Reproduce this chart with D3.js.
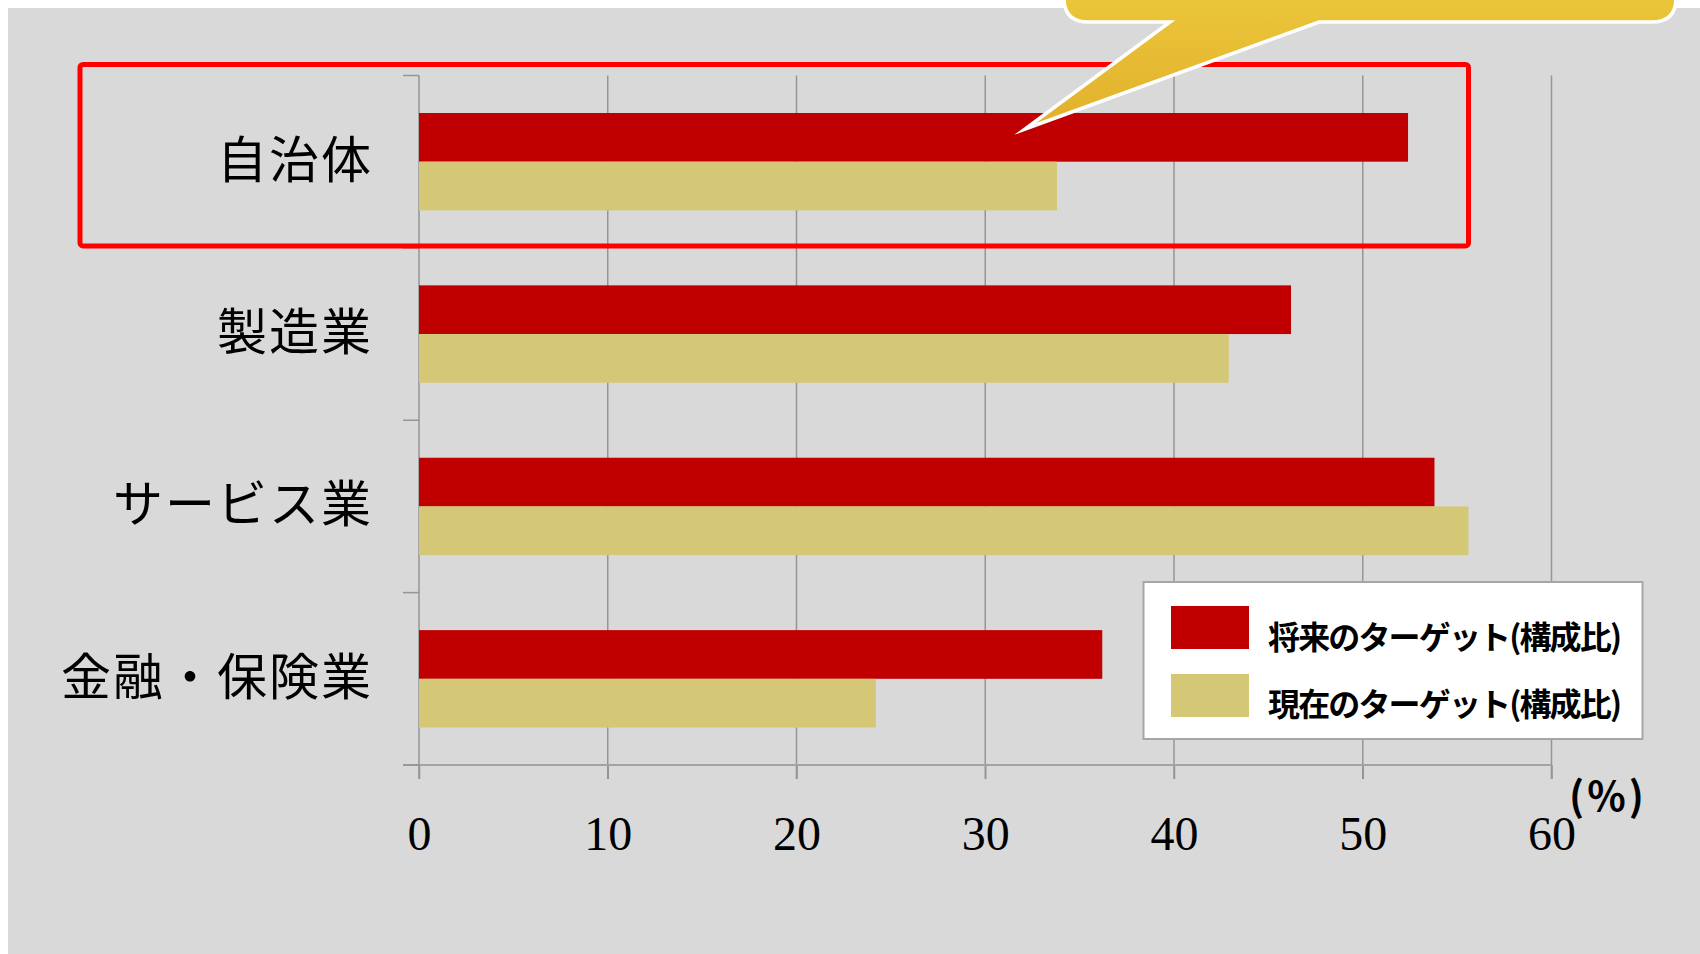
<!DOCTYPE html>
<html>
<head>
<meta charset="utf-8">
<script src="https://cdn.jsdelivr.net/npm/d3@7"></script>
<style>
  html, body { margin: 0; padding: 0; background: #ffffff; }
  svg { display: block; }
</style>
</head>
<body>
<svg id="chart" width="1700" height="954"></svg>
<script>
// ---- data ----
const categories = ["自治体", "製造業", "サービス業", "金融・保険業"];
const seriesKeys = ["future", "current"];
const seriesNames = ["将来のターゲット(構成比)", "現在のターゲット(構成比)"];
const futureValues = [52.4, 46.2, 53.8, 36.2];
const currentValues = [33.8, 42.9, 55.6, 24.2];
const xTicks = [0, 10, 20, 30, 40, 50, 60];
const unitLabel = "(%)";

// ---- layout ----
const W = 1700, H = 954;
const plot = { left: 419, right: 1551.5, top: 75.5, bottom: 765 };
const colors = { future: "#c00000", current: "#d4c876" };
const gridColor = "#959595";

const svg = d3.select("#chart");

svg.append("rect").attr("x", 8).attr("y", 8).attr("width", W - 8).attr("height", H - 8)
  .attr("fill", "#d9d9d9");

const x = d3.scaleLinear().domain([xTicks[0], xTicks[xTicks.length - 1]]).range([plot.left, plot.right]);
const pad = 0.435;
const y = d3.scaleBand().domain(categories).range([plot.top, plot.bottom])
  .paddingInner(pad).paddingOuter(pad / 2);
const ySub = d3.scaleBand().domain(seriesKeys).range([0, y.bandwidth()]);

// gridlines
const tickLen = 14;
svg.append("g").selectAll("line").data(xTicks.slice(1)).join("line")
  .attr("x1", d => x(d)).attr("x2", d => x(d))
  .attr("y1", plot.top).attr("y2", plot.bottom + tickLen)
  .attr("stroke", gridColor).attr("stroke-width", 1.5);

// x axis
const xAxis = svg.append("g").attr("transform", `translate(0,${plot.bottom})`)
  .call(d3.axisBottom(x).tickValues(xTicks).tickSize(tickLen).tickSizeOuter(0));
xAxis.select(".domain").remove();
xAxis.selectAll(".tick line").attr("stroke", gridColor).attr("stroke-width", 1.5);
xAxis.selectAll(".tick text")
  .attr("y", 68.6).attr("dy", "0.35em")
  .attr("font-family", "'Liberation Serif', 'Times New Roman', serif")
  .attr("font-size", 48).attr("fill", "#000");
svg.append("line")
  .attr("x1", plot.left - 16).attr("x2", x(xTicks[xTicks.length - 1]))
  .attr("y1", plot.bottom).attr("y2", plot.bottom)
  .attr("stroke", "#a3a3a3").attr("stroke-width", 2);

// y axis
svg.append("line")
  .attr("x1", plot.left).attr("x2", plot.left)
  .attr("y1", plot.top).attr("y2", plot.bottom + tickLen)
  .attr("stroke", gridColor).attr("stroke-width", 1.5);
const boundaries = d3.range(categories.length + 1).map(i => y.range()[0] + i * y.step());
svg.append("g").selectAll("line").data(boundaries).join("line")
  .attr("x1", plot.left - 16).attr("x2", plot.left)
  .attr("y1", d => d).attr("y2", d => d)
  .attr("stroke", gridColor).attr("stroke-width", 1.5);

// bars
const rows = categories.map((c, i) => ({ cat: c, future: futureValues[i], current: currentValues[i] }));
const groups = svg.append("g").selectAll("g").data(rows).join("g")
  .attr("transform", d => `translate(0,${y(d.cat)})`);
groups.selectAll("rect").data(d => seriesKeys.map(k => ({ key: k, value: d[k] }))).join("rect")
  .attr("x", x(0))
  .attr("y", d => ySub(d.key))
  .attr("width", d => x(d.value) - x(0))
  .attr("height", ySub.bandwidth())
  .attr("fill", d => colors[d.key]);

// category labels
svg.append("g").selectAll("text").data(categories).join("text")
  .attr("x", 373)
  .attr("y", d => y(d) + y.bandwidth() / 2 - 6)
  .attr("text-anchor", "end")
  .attr("dominant-baseline", "central")
  .attr("font-family", "'Noto Sans CJK JP', 'Noto Sans', sans-serif")
  .attr("font-size", 50)
  .attr("letter-spacing", 2)
  .attr("fill", "#000")
  .text(d => d);

// unit label
svg.append("text")
  .attr("x", 1608).attr("y", 794)
  .attr("text-anchor", "middle").attr("dominant-baseline", "central")
  .attr("font-family", "'Noto Sans CJK JP', sans-serif")
  .attr("font-weight", 700).attr("font-size", 40).attr("letter-spacing", 3)
  .attr("fill", "#000")
  .text(unitLabel);

// legend
const lg = svg.append("g");
lg.append("rect").attr("x", 1143.5).attr("y", 582).attr("width", 499).attr("height", 157)
  .attr("fill", "#ffffff").attr("stroke", "#a6a6a6").attr("stroke-width", 2);
const legendRows = [0, 1];
lg.selectAll("rect.sw").data(legendRows).join("rect").attr("class", "sw")
  .attr("x", 1171).attr("y", i => 606 + i * 68).attr("width", 78).attr("height", 43)
  .attr("fill", i => colors[seriesKeys[i]]);
lg.selectAll("text").data(legendRows).join("text")
  .attr("x", 1268).attr("y", i => 635 + i * 67)
  .attr("dominant-baseline", "central")
  .attr("font-family", "'Noto Sans CJK JP', sans-serif")
  .attr("font-weight", 700).attr("font-size", 32)
  .attr("textLength", 354).attr("lengthAdjust", "spacing")
  .attr("fill", "#000")
  .text(i => seriesNames[i]);

// highlight box around first category
const hb = { x0: 80, x1: 1468.5, y0: y.range()[0] - 11, y1: boundaries[1] - 2 };
svg.append("rect")
  .attr("x", hb.x0).attr("y", hb.y0)
  .attr("width", hb.x1 - hb.x0).attr("height", hb.y1 - hb.y0)
  .attr("rx", 3)
  .attr("fill", "none").attr("stroke", "#ff0000").attr("stroke-width", 5);

// callout
const defs = svg.append("defs");
const grad = defs.append("linearGradient").attr("id", "callGrad")
  .attr("x1", 0).attr("y1", 0).attr("x2", 0).attr("y2", 1);
grad.append("stop").attr("offset", "0%").attr("stop-color", "#efcf40");
grad.append("stop").attr("offset", "100%").attr("stop-color", "#e2b02c");
const c = { l: 1064, r: 1676, t: -60, b: 22, rad: 24, p1: 1170, p2: 1319, tipX: 1025, tipY: 129 };
const callPath = `M${c.l},${c.t} L${c.r},${c.t} L${c.r},${c.b - c.rad} Q${c.r},${c.b} ${c.r - c.rad},${c.b}
  L${c.p2},${c.b} L${c.tipX},${c.tipY} L${c.p1},${c.b} L${c.l + c.rad},${c.b} Q${c.l},${c.b} ${c.l},${c.b - c.rad} Z`;
svg.append("path").attr("d", callPath)
  .attr("fill", "url(#callGrad)")
  .attr("stroke", "#ffffff").attr("stroke-width", 3.5)
  .attr("stroke-linejoin", "miter").attr("stroke-miterlimit", 20);
</script>
</body>
</html>
